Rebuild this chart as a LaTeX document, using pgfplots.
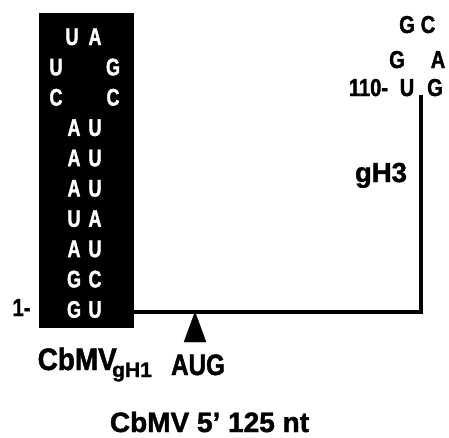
\documentclass[border=0pt]{standalone}
\usepackage{pgfplots}
\pgfplotsset{compat=1.18}
\usepackage{fontspec}
\setmainfont{Liberation Sans}[BoldFeatures={FakeBold=1.5}]
\newfontfamily\nar{Liberation Sans}[FakeStretch=0.82, BoldFeatures={FakeBold=1.5}]
\newfontfamily\narc{Liberation Sans}[FakeStretch=0.9, BoldFeatures={FakeBold=1.5}]
\newfontfamily\narr{Liberation Sans}[FakeStretch=0.75, BoldFeatures={FakeBold=1.5}]
\begin{document}
\begin{tikzpicture}
\begin{axis}[hide axis, scale only axis, width=449pt, height=437pt,
  xmin=0, xmax=449, ymin=0, ymax=437, y dir=reverse, clip=false,
  anchor=south west, at={(0,0)}]
% stem box
\addplot[fill=black, draw=black] coordinates {(39,13) (133,13) (133,327) (39,327)} -- cycle;
% backbone
\addplot[line width=4.5pt, line join=miter] coordinates {(133,312) (421,312) (421,95)};
% AUG triangle
\addplot[fill=black, draw=black] coordinates {(184,342) (195,312) (206,342)} -- cycle;
% box letters
\begin{scope}[every node/.style={font=\narr\bfseries\fontsize{24}{24}\selectfont, text=white, inner sep=0pt, anchor=base}]
\node at (axis cs:72,45) {U}; \node at (axis cs:95,45) {A};
\node at (axis cs:56,75.3) {U}; \node at (axis cs:113,75.3) {G};
\node at (axis cs:56,105.6) {C}; \node at (axis cs:113,105.6) {C};
\node at (axis cs:74,135.9) {A}; \node at (axis cs:95,135.9) {U};
\node at (axis cs:74,166.2) {A}; \node at (axis cs:95,166.2) {U};
\node at (axis cs:74,196.5) {A}; \node at (axis cs:95,196.5) {U};
\node at (axis cs:74,226.8) {U}; \node at (axis cs:95,226.8) {A};
\node at (axis cs:74,257.1) {A}; \node at (axis cs:95,257.1) {U};
\node at (axis cs:74,287.4) {G}; \node at (axis cs:95,287.4) {C};
\node at (axis cs:74,317.7) {G}; \node at (axis cs:95,317.7) {U};
\end{scope}
\begin{scope}[every node/.style={font=\nar\bfseries\fontsize{24.5}{24.5}\selectfont, text=black, inner sep=0pt, anchor=base}]
\node at (axis cs:21.5,316) {1-};
\node at (axis cs:407,33) {G}; \node at (axis cs:428,33) {C};
\node at (axis cs:397,68) {G}; \node at (axis cs:438,68) {A};
\node at (axis cs:368.5,96) {110-}; \node at (axis cs:407,96) {U}; \node at (axis cs:435,96) {G};
\end{scope}
\node[font=\bfseries\fontsize{27.5}{27.5}\selectfont, inner sep=0pt, anchor=base] at (axis cs:381,182) {gH3};
\node[font=\nar\bfseries\fontsize{29.5}{29.5}\selectfont, inner sep=0pt, anchor=base] at (axis cs:198,375) {AUG};
\node[font=\narc\bfseries\fontsize{31}{31}\selectfont, inner sep=0pt, anchor=base west] at (axis cs:37.5,370) {CbMV};
\node[font=\bfseries\fontsize{21}{21}\selectfont, inner sep=0pt, anchor=base west] at (axis cs:112,377) {gH1};
\node[font=\bfseries\fontsize{28}{28}\selectfont, inner sep=0pt, anchor=base, text depth=0pt] at (axis cs:209.5,432) {CbMV 5’ 125 nt};
\end{axis}
\pgfresetboundingbox
\path[use as bounding box] (0,0) rectangle (449pt,437pt);
\end{tikzpicture}
\end{document}
